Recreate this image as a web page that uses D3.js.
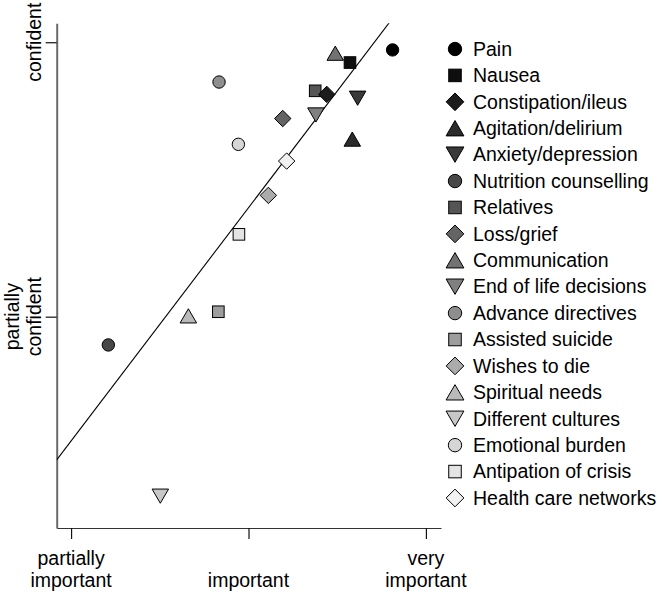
<!DOCTYPE html>
<html>
<head>
<meta charset="utf-8">
<script src="https://cdn.jsdelivr.net/npm/d3@7"></script>
<style>
  html, body { margin: 0; padding: 0; background: #fff; }
  svg { display: block; }
  text { font-family: "Liberation Sans", Arial, sans-serif; fill: #000; }
</style>
</head>
<body>
<svg id="chart" width="663" height="594"></svg>
<script>
// ---- data ----
const categories = ["Pain", "Nausea", "Constipation/ileus", "Agitation/delirium", "Anxiety/depression",
  "Nutrition counselling", "Relatives", "Loss/grief", "Communication", "End of life decisions",
  "Advance directives", "Assisted suicide", "Wishes to die", "Spiritual needs", "Different cultures",
  "Emotional burden", "Antipation of crisis", "Health care networks"];
const importance = [2.812, 2.572, 2.441, 2.585, 2.615, 1.210, 2.376, 2.193, 2.489, 2.380,
  1.834, 1.830, 2.112, 1.661, 1.503, 1.943, 1.946, 2.215];
const confidence = [1.972, 1.926, 1.810, 1.647, 1.796, 0.897, 1.823, 1.722, 1.960, 1.735,
  1.855, 1.018, 1.442, 1.003, 0.346, 1.628, 1.300, 1.567];
const shapes = ["circle", "square", "diamond", "triUp", "triDown", "circle", "square", "diamond", "triUp",
  "triDown", "circle", "square", "diamond", "triUp", "triDown", "circle", "square", "diamond"];
const fills = ["#000000", "#0e0e0e", "#1c1c1c", "#2b2b2b", "#393939", "#474747", "#555555", "#646464",
  "#727272", "#808080", "#8e8e8e", "#9d9d9d", "#ababab", "#b9b9b9", "#c7c7c7", "#d6d6d6", "#e4e4e4", "#f2f2f2"];
const xTickValues = [1, 2, 3];
const xTickLabels = [["partially", "important"], ["important"], ["very", "important"]];
const yTickValues = [1, 2];
const yTickLabels = [["partially", "confident"], ["confident"]];
const fitIntercept = -0.303;
const fitSlope = 0.850;

// ---- layout ----
const svg = d3.select("#chart");
const x = d3.scaleLinear().domain([0.919, 3.085]).range([56.7, 441]);
const y = d3.scaleLinear().domain([0.230, 2.069]).range([528, 23.3]);
const FONT = 19.5;
const LINE = 22;

// clip for regression line
svg.append("clipPath").attr("id", "plotclip").append("rect")
  .attr("x", x.range()[0]).attr("y", y.range()[1])
  .attr("width", x.range()[1] - x.range()[0]).attr("height", y.range()[0] - y.range()[1]);

// axes
const xAxis = d3.axisBottom(x).tickValues(xTickValues).tickSize(11).tickSizeOuter(0).tickFormat("");
const gx = svg.append("g").attr("transform", `translate(0,${y.range()[0]})`).call(xAxis);
gx.select(".domain").attr("stroke", "#333").attr("stroke-width", 1.2);
gx.selectAll(".tick line").attr("stroke", "#111").attr("stroke-width", 1.2);

const yAxis = d3.axisLeft(y).tickValues(yTickValues).tickSize(11).tickSizeOuter(0).tickFormat("");
const gy = svg.append("g").attr("transform", `translate(${x.range()[0]},0)`).call(yAxis);
gy.select(".domain").attr("stroke", "#6a6a6a").attr("stroke-width", 2);
gy.selectAll(".tick line").attr("stroke", "#111").attr("stroke-width", 1.2);

// x tick labels (bottom aligned)
xTickValues.forEach((v, i) => {
  const lines = xTickLabels[i];
  const t = svg.append("text").attr("text-anchor", "middle").style("font-size", FONT + "px");
  lines.forEach((l, j) => {
    t.append("tspan").attr("x", x(v)).attr("y", 587 - (lines.length - 1 - j) * LINE).text(l);
  });
});

// y tick labels (rotated, last line nearest the axis)
yTickValues.forEach((v, i) => {
  const lines = yTickLabels[i];
  lines.forEach((l, j) => {
    const bx = 41 - (lines.length - 1 - j) * LINE;
    svg.append("text").attr("text-anchor", "middle").style("font-size", FONT + "px")
      .attr("transform", `translate(${bx},${y(v)}) rotate(-90)`).text(l);
  });
});

// regression line
const xd = x.domain();
svg.append("line").attr("clip-path", "url(#plotclip)")
  .attr("x1", x(xd[0])).attr("y1", y(fitIntercept + fitSlope * xd[0]))
  .attr("x2", x(xd[1])).attr("y2", y(fitIntercept + fitSlope * xd[1]))
  .attr("stroke", "#000").attr("stroke-width", 1.1);

// marker drawing
function drawMarker(g, shape, fill, k) {
  let el;
  if (shape === "circle") {
    el = g.append("circle").attr("r", 6.2 * k);
  } else if (shape === "square") {
    const s = 11.6 * k;
    el = g.append("rect").attr("x", -s / 2).attr("y", -s / 2).attr("width", s).attr("height", s);
  } else if (shape === "diamond") {
    const h = 8.2 * k;
    el = g.append("path").attr("d", `M0,${-h}L${h},0L0,${h}L${-h},0Z`);
  } else if (shape === "triUp") {
    const w = 16.5 * k, h = 14.2 * k;
    el = g.append("path").attr("d", `M0,${-h / 2}L${w / 2},${h / 2}L${-w / 2},${h / 2}Z`);
  } else {
    const w = 16.5 * k, h = 14.2 * k;
    el = g.append("path").attr("d", `M${-w / 2},${-h / 2}L${w / 2},${-h / 2}L0,${h / 2}Z`);
  }
  el.attr("fill", fill).attr("stroke", "#000").attr("stroke-width", 1);
}

// points (drawn in reverse order)
const idx = d3.range(categories.length).reverse();
idx.forEach(i => {
  const g = svg.append("g").attr("transform", `translate(${x(importance[i])},${y(confidence[i])})`);
  drawMarker(g, shapes[i], fills[i], 1);
});

// legend
const legY0 = 49, legDy = 26.41, legX = 455, legTextX = 473;
categories.forEach((c, i) => {
  const cy = legY0 + i * legDy;
  const g = svg.append("g").attr("transform", `translate(${legX},${cy})`);
  drawMarker(g, shapes[i], fills[i], 1.08);
  svg.append("text").attr("x", legTextX).attr("y", cy + 6.8)
    .style("font-size", FONT + "px").text(c);
});
</script>
</body>
</html>
